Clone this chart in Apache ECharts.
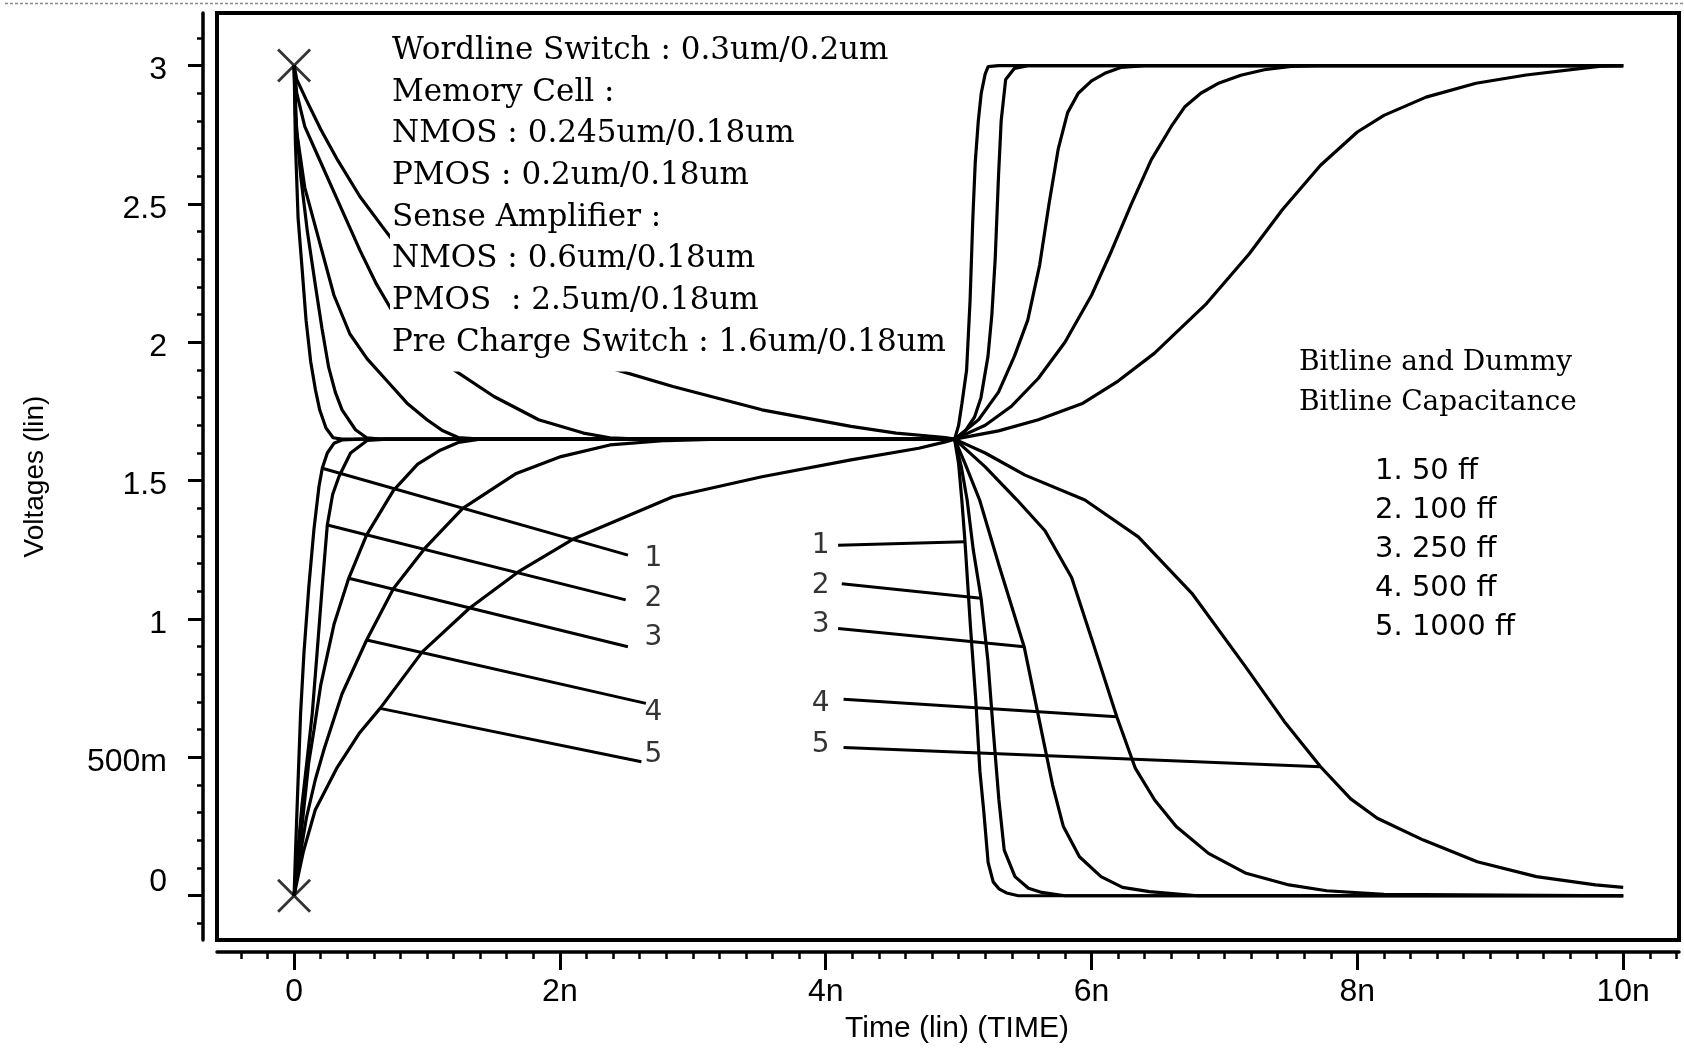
<!DOCTYPE html>
<html><head><meta charset="utf-8">
<script src="https://cdn.jsdelivr.net/npm/echarts@6/dist/echarts.min.js"></script>
<style>html,body{margin:0;padding:0;background:#fff}#c{width:1684px;height:1048px}</style>
</head><body><div id="c"></div>
<script>
// ---------- axis ticks / labels ----------
const xMajor = [0, 2, 4, 6, 8, 10];
const xLabels = ['0', '2n', '4n', '6n', '8n', '10n'];
const yMajor = [0, 0.5, 1, 1.5, 2, 2.5, 3];
const yLabels = ['0', '500m', '1', '1.5', '2', '2.5', '3'];
const xMinor = []; for (let i = -2; i <= 52; i++) xMinor.push(i / 5);
const yMinor = []; for (let i = -1; i <= 31; i++) yMinor.push(i / 10);

// ---------- waveforms (time in ns, voltage in V) ----------
// phase 1 (equalise): bitlines starting at 3 V
const p1Fall1 = [[0,3.0],[0.01,2.72],[0.03,2.45],[0.058,2.28],[0.09,2.08],[0.125,1.93],[0.16,1.83],[0.193,1.755],[0.24,1.69],[0.294,1.655],[0.36,1.65]];
const p1Fall2 = [[0,3.0],[0.01,2.82],[0.05,2.6],[0.1,2.4],[0.159,2.21],[0.21,2.05],[0.26,1.91],[0.31,1.82],[0.361,1.756],[0.462,1.684],[0.546,1.655],[0.65,1.65]];
const p1Fall3 = [[0,3.0],[0.02,2.76],[0.08,2.56],[0.159,2.42],[0.3,2.17],[0.42,2.03],[0.55,1.94],[0.7,1.86],[0.85,1.78],[1.0,1.72],[1.12,1.68],[1.235,1.656],[1.4,1.65]];
const p1Fall4 = [[0,3.0],[0.02,2.9],[0.08,2.78],[0.159,2.695],[0.327,2.514],[0.495,2.333],[0.62,2.21],[0.748,2.105],[0.95,1.99],[1.185,1.906],[1.504,1.804],[1.84,1.72],[2.177,1.672],[2.376,1.655],[2.6,1.65]];
const p1Fall5 = [[0,3.0],[0.02,2.95],[0.092,2.876],[0.2,2.77],[0.327,2.659],[0.495,2.527],[0.664,2.418],[0.748,2.365],[1.2,2.18],[1.8,2.02],[2.344,1.912],[2.85,1.84],[3.52,1.756],[4.19,1.696],[4.53,1.672],[4.9,1.656]];
// phase 1: bitlines starting at 0 V
const p1Rise1 = [[0,0],[0.01,0.15],[0.025,0.35],[0.049,0.659],[0.074,0.876],[0.111,1.117],[0.149,1.322],[0.187,1.478],[0.212,1.545],[0.25,1.6],[0.3,1.635],[0.36,1.647],[0.5,1.65]];
const p1Rise2 = [[0,0],[0.02,0.12],[0.06,0.33],[0.1,0.5],[0.137,0.66],[0.175,0.89],[0.212,1.12],[0.25,1.34],[0.29,1.45],[0.337,1.514],[0.425,1.6],[0.55,1.645],[0.7,1.65]];
const p1Rise3 = [[0,0],[0.03,0.12],[0.07,0.3],[0.11,0.48],[0.15,0.6],[0.2,0.76],[0.3,0.98],[0.411,1.147],[0.546,1.304],[0.748,1.465],[0.93,1.56],[1.1,1.61],[1.235,1.638],[1.4,1.65]];
const p1Rise4 = [[0,0],[0.03,0.1],[0.092,0.28],[0.16,0.42],[0.226,0.53],[0.361,0.73],[0.546,0.924],[0.748,1.11],[0.983,1.255],[1.269,1.4],[1.672,1.526],[2.008,1.587],[2.376,1.629],[2.8,1.645],[3.2,1.65]];
const p1Rise5 = [[0,0],[0.03,0.07],[0.07,0.16],[0.159,0.31],[0.32,0.46],[0.495,0.59],[0.647,0.677],[0.966,0.882],[1.319,1.039],[1.689,1.171],[2.109,1.291],[2.85,1.442],[3.52,1.514],[4.19,1.575],[4.7,1.617],[4.9,1.64]];
// phase 2 (sense): rising to 3 V
const p2Rise1 = [[4.97,1.65],[5.0,1.7],[5.025,1.78],[5.06,1.9],[5.086,2.15],[5.107,2.45],[5.125,2.65],[5.148,2.8],[5.17,2.9],[5.2,2.97],[5.222,2.996],[5.3,3.0],[10,3.0]];
const p2Rise2 = [[4.97,1.65],[5.05,1.68],[5.12,1.73],[5.168,1.8],[5.221,1.95],[5.25,2.1],[5.275,2.3],[5.3,2.6],[5.32,2.8],[5.354,2.95],[5.42,2.99],[5.523,3.0],[10,3.0]];
const p2Rise3 = [[4.97,1.65],[5.15,1.72],[5.3,1.82],[5.42,1.95],[5.52,2.08],[5.61,2.28],[5.68,2.5],[5.75,2.7],[5.82,2.83],[5.9,2.9],[6.0,2.945],[6.1,2.972],[6.22,2.993],[6.4,3.0],[10,3.0]];
const p2Rise4 = [[4.97,1.65],[5.2,1.7],[5.4,1.77],[5.6,1.87],[5.8,2.0],[6.0,2.17],[6.15,2.33],[6.3,2.5],[6.45,2.66],[6.6,2.78],[6.7,2.85],[6.822,2.9],[6.95,2.935],[7.123,2.965],[7.3,2.985],[7.5,2.997],[7.7,3.0],[10,3.0]];
const p2Rise5 = [[4.97,1.65],[5.3,1.68],[5.6,1.72],[5.936,1.78],[6.2,1.86],[6.472,1.96],[6.865,2.14],[7.187,2.32],[7.437,2.48],[7.723,2.64],[8.0,2.76],[8.2,2.82],[8.517,2.886],[8.893,2.936],[9.27,2.966],[9.834,2.998],[10.0,3.0]];
// phase 2: falling to 0 V
const p2Fall1 = [[4.97,1.65],[5.0,1.56],[5.024,1.43],[5.048,1.279],[5.089,0.972],[5.129,0.707],[5.16,0.45],[5.19,0.3],[5.222,0.12],[5.26,0.05],[5.303,0.025],[5.36,0.01],[5.45,0.0],[10,0.0]];
const p2Fall2 = [[4.97,1.65],[5.02,1.55],[5.064,1.43],[5.11,1.25],[5.169,1.075],[5.22,0.85],[5.26,0.6],[5.303,0.346],[5.343,0.165],[5.424,0.069],[5.525,0.027],[5.626,0.012],[5.8,0.0],[10,0.0]];
const p2Fall3 = [[4.97,1.65],[5.05,1.56],[5.158,1.43],[5.3,1.2],[5.493,0.9],[5.6,0.65],[5.707,0.4],[5.788,0.25],[5.909,0.141],[6.071,0.069],[6.233,0.03],[6.435,0.015],[6.8,0.0],[10,0.0]];
const p2Fall4 = [[4.97,1.65],[5.2,1.55],[5.44,1.43],[5.65,1.319],[5.85,1.15],[6.0,0.93],[6.19,0.647],[6.33,0.46],[6.475,0.346],[6.637,0.25],[6.88,0.153],[7.163,0.081],[7.486,0.039],[7.769,0.018],[8.2,0.005],[10,0.0]];
const p2Fall5 = [[4.97,1.65],[5.2,1.6],[5.5,1.52],[5.95,1.43],[6.352,1.297],[6.755,1.093],[7.158,0.828],[7.45,0.63],[7.723,0.466],[7.95,0.35],[8.15,0.28],[8.497,0.201],[8.902,0.123],[9.347,0.069],[9.792,0.039],[10.0,0.03]];

// start markers (X)
const markerPts = [[0, 3], [0, 0]];

// leader lines and their numbers
const leftLeaders = [[[0.212,1.545],[2.512,1.231]],[[0.25,1.34],[2.495,1.069]],[[0.411,1.147],[2.512,0.9]],[[0.546,0.924],[2.647,0.695]],[[0.647,0.677],[2.613,0.484]]];
const midLeaders = [[[4.093,1.267],[5.048,1.279]],[[4.121,1.127],[5.169,1.075]],[[4.093,0.966],[5.493,0.9]],[[4.134,0.71],[6.19,0.647]],[[4.134,0.536],[7.723,0.466]]];
const numLabels = ['1', '2', '3', '4', '5'];
const leftNumT = 2.704;
const leftNumV = [1.218, 1.073, 0.932, 0.660, 0.508];
const midNumT = 3.961;
const midNumV = [1.264, 1.12, 0.978, 0.695, 0.547];

// annotation texts
const sizingNotes = ['Wordline Switch : 0.3um/0.2um','Memory Cell :','NMOS : 0.245um/0.18um','PMOS : 0.2um/0.18um','Sense Amplifier :','NMOS : 0.6um/0.18um','PMOS  : 2.5um/0.18um','Pre Charge Switch : 1.6um/0.18um'];
const capTitle = ['Bitline and Dummy', 'Bitline Capacitance'];
const capList = ['1. 50 ff', '2. 100 ff', '3. 250 ff', '4. 500 ff', '5. 1000 ff'];

// ---------- build chart ----------
const xMin = -0.58, xMax = 10.42, yMin = -0.16, yMax = 3.19;
const fallP1 = [p1Fall1, p1Fall2, p1Fall3, p1Fall4, p1Fall5];
const riseP1 = [p1Rise1, p1Rise2, p1Rise3, p1Rise4, p1Rise5];
const riseP2 = [p2Rise1, p2Rise2, p2Rise3, p2Rise4, p2Rise5];
const fallP2 = [p2Fall1, p2Fall2, p2Fall3, p2Fall4, p2Fall5];

function lineSeries(data, w) {
  return { type: 'line', data: data, showSymbol: false, symbol: 'none', smooth: false,
    lineStyle: { color: '#000', width: w }, itemStyle: { color: '#000' },
    animation: false, silent: true, z: 3 };
}
const series = [];
for (let k = 0; k < 5; k++) {
  series.push(lineSeries(fallP1[k].concat(riseP2[k]), 3.2));
  series.push(lineSeries(riseP1[k].concat(fallP2[k]), 3.2));
}
leftLeaders.concat(midLeaders).forEach(seg => series.push(lineSeries(seg, 3)));

function numSeries(t, vs) {
  return { type: 'scatter', symbolSize: 1, itemStyle: { color: 'rgba(0,0,0,0)' }, animation: false, silent: true, z: 5,
    data: vs.map((v, i) => ({ name: numLabels[i], value: [t, v] })),
    label: { show: true, position: 'inside', formatter: '{b}', color: '#000', fontFamily: 'DejaVu Sans', fontSize: 28 } };
}
series.push(numSeries(leftNumT, leftNumV));
series.push(numSeries(midNumT, midNumV));
series.push({ type: 'scatter', data: markerPts, symbol: 'path://M0 0L10 10M10 0L0 10', symbolSize: 32,
  itemStyle: { color: 'none', borderColor: '#000', borderWidth: 2.8 }, animation: false, silent: true, z: 6, clip: false });

const labelFont = { color: '#000', fontFamily: 'Liberation Sans, Arial, sans-serif', fontSize: 32 };
const xLabelOf = v => { const i = xMajor.findIndex(m => Math.abs(m - v) < 1e-6); return i >= 0 ? xLabels[i] : ''; };
const yLabelOf = v => { const i = yMajor.findIndex(m => Math.abs(m - v) < 1e-6); return i >= 0 ? yLabels[i] : ''; };

const option = {
  backgroundColor: '#fff',
  animation: false,
  grid: { left: 217, right: 5, top: 13, bottom: 108, show: true, borderColor: '#000', borderWidth: 4,
    backgroundColor: 'rgba(0,0,0,0)', containLabel: false, outerBoundsMode: 'none' },
  xAxis: [
    { type: 'value', min: xMin, max: xMax, position: 'bottom', offset: 12,
      axisLine: { show: true, onZero: false, lineStyle: { color: '#000', width: 3.5 } },
      axisTick: { show: true, inside: false, length: 18, customValues: xMajor, lineStyle: { color: '#000', width: 3 } },
      axisLabel: Object.assign({ show: true, customValues: xMajor, margin: 24, formatter: xLabelOf }, labelFont),
      splitLine: { show: false },
      name: 'Time (lin) (TIME)', nameLocation: 'middle', nameGap: 62, nameMoveOverlap: false,
      nameTextStyle: { color: '#000', fontFamily: 'Liberation Sans, Arial, sans-serif', fontSize: 30, padding: [0, 0, 0, 18] } },
    { type: 'value', min: xMin, max: xMax, position: 'bottom', offset: 12,
      axisLine: { show: false, onZero: false },
      axisTick: { show: true, length: 7, customValues: xMinor, lineStyle: { color: '#000', width: 2.5 } },
      axisLabel: { show: false }, splitLine: { show: false } }
  ],
  yAxis: [
    { type: 'value', min: yMin, max: yMax, position: 'left', offset: 14,
      axisLine: { show: true, onZero: false, lineStyle: { color: '#000', width: 3.5 } },
      axisTick: { show: true, length: 15, customValues: yMajor, lineStyle: { color: '#000', width: 3 } },
      axisLabel: Object.assign({ show: true, customValues: yMajor, margin: 36,
        formatter: v => (Math.abs(v) < 1e-6 ? '{z|' + yLabelOf(v) + '}' : '{n|' + yLabelOf(v) + '}'),
        rich: { n: Object.assign({ padding: [10, 0, 0, 0] }, labelFont), z: Object.assign({ padding: [0, 0, 28, 0] }, labelFont) } }, labelFont),
      splitLine: { show: false },
      name: 'Voltages (lin)', nameLocation: 'middle', nameGap: 154, nameMoveOverlap: false,
      nameTextStyle: { color: '#000', fontFamily: 'Liberation Sans, Arial, sans-serif', fontSize: 28 } },
    { type: 'value', min: yMin, max: yMax, position: 'left', offset: 14,
      axisLine: { show: false, onZero: false },
      axisTick: { show: true, length: 6, customValues: yMinor, lineStyle: { color: '#000', width: 2.5 } },
      axisLabel: { show: false }, splitLine: { show: false } }
  ],
  series: series,
  graphic: [
    { type: 'line', z: 1, shape: { x1: 5, y1: 3.5, x2: 1684, y2: 3.5 }, style: { stroke: '#8a8a8a', lineWidth: 1.5, lineDash: [3, 2] } },
    { type: 'text', left: 390, top: 30, z: 100,
      style: { text: sizingNotes.join('\n'), font: '31px "DejaVu Serif"', lineHeight: 41.7, fill: '#000',
        backgroundColor: '#fff', padding: [0, 10, 8, 2] } },
    { type: 'text', left: 1299, top: 343, z: 100,
      style: { text: capTitle.join('\n'), font: '28px "DejaVu Serif"', lineHeight: 39.7, fill: '#000' } },
    { type: 'text', left: 1375, top: 452, z: 100,
      style: { text: capList.join('\n'), font: '29px "DejaVu Sans"', lineHeight: 38.95, fill: '#000' } }
  ]
};
const chart = echarts.init(document.getElementById('c'), null, { renderer: 'canvas' });
chart.setOption(option);
</script></body></html>
